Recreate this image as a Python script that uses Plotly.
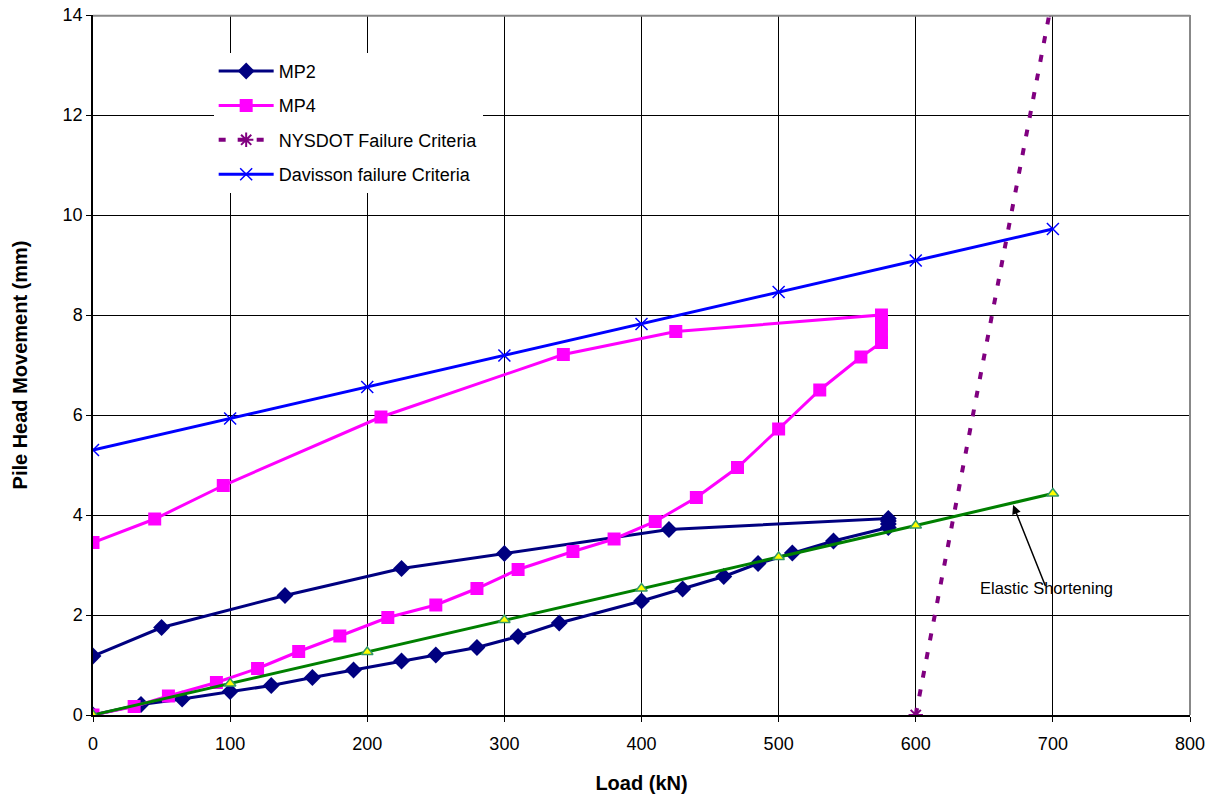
import plotly.graph_objects as go

# ---- data ----
mp2_load = [0, 35, 65, 100, 130, 160, 190, 225, 250, 280, 310, 340, 400, 430, 460, 485, 510, 540,
            580, 580, 580, 580, 420, 300, 225, 140, 50, 0]
mp2_move = [0, 0.21, 0.32, 0.47, 0.59, 0.75, 0.90, 1.08, 1.20, 1.35, 1.57, 1.84, 2.28, 2.52, 2.77, 3.03, 3.24, 3.48,
            3.75, 3.82, 3.88, 3.93, 3.71, 3.23, 2.93, 2.39, 1.75, 1.18]

mp4_load = [0, 30, 55, 90, 120, 150, 180, 215, 250, 280, 310, 350, 380, 410, 440, 470, 500, 530, 560,
            575, 575, 575, 575, 425, 343, 210, 95, 45, 0]
mp4_move = [0, 0.17, 0.38, 0.65, 0.93, 1.27, 1.58, 1.95, 2.20, 2.53, 2.91, 3.27, 3.52, 3.87, 4.35, 4.95, 5.72, 6.50, 7.16,
            7.45, 7.60, 7.80, 8.00, 7.67, 7.21, 5.96, 4.59, 3.92, 3.45]

nysdot_load = [600, 698]
nysdot_move = [0, 14.1]

dav_load = [0, 100, 200, 300, 400, 500, 600, 700]
dav_move = [5.30, 5.93, 6.56, 7.19, 7.82, 8.46, 9.09, 9.72]

el_load = [0, 100, 200, 300, 400, 500, 600, 700]
el_move = [0, 0.63, 1.26, 1.90, 2.53, 3.16, 3.79, 4.43]

x_ticks = [0, 100, 200, 300, 400, 500, 600, 700, 800]
y_ticks = [0, 2, 4, 6, 8, 10, 12, 14]

FONT = "Liberation Sans, Arial, sans-serif"

fig = go.Figure()
fig.add_trace(go.Scatter(x=mp2_load, y=mp2_move, name="MP2", mode="lines+markers",
                         line=dict(color="#000080", width=3),
                         marker=dict(symbol="diamond", size=13, color="#000080"),
                         legendgroup="a"))
fig.add_trace(go.Scatter(x=mp4_load, y=mp4_move, name="MP4", mode="lines+markers",
                         line=dict(color="#FF00FF", width=3),
                         marker=dict(symbol="square", size=13, color="#FF00FF"),
                         legendgroup="b"))
fig.add_trace(go.Scatter(x=nysdot_load, y=nysdot_move, name="NYSDOT Failure Criteria", mode="lines+markers",
                         line=dict(color="#800080", width=4, dash="7px,12px"),
                         marker=dict(symbol="asterisk-open", size=12, color="#800080",
                                     line=dict(color="#800080", width=2)),
                         legendgroup="c"))
fig.add_trace(go.Scatter(x=dav_load, y=dav_move, name="Davisson failure Criteria", mode="lines+markers",
                         line=dict(color="#0000FF", width=3),
                         marker=dict(symbol="x-thin-open", size=12, color="#0000FF",
                                     line=dict(color="#0000FF", width=1.5)),
                         legendgroup="d"))
fig.add_trace(go.Scatter(x=el_load, y=el_move, name="Elastic Shortening", mode="lines+markers",
                         line=dict(color="#008000", width=3),
                         marker=dict(symbol="triangle-up", size=10, color="#FFFF00",
                                     line=dict(color="#339966", width=1.5)),
                         showlegend=False))

fig.add_annotation(x=671, y=4.2, ax=695, ay=2.55, axref="x", ayref="y", xref="x", yref="y",
                   text="", showarrow=True, arrowhead=2, arrowsize=1.2, arrowwidth=1.5, arrowcolor="#000")
fig.add_annotation(x=695, y=2.54, xref="x", yref="y", text="Elastic Shortening", showarrow=False,
                   font=dict(family=FONT, size=16.5, color="#000"))

# top / right border in grey
fig.add_shape(type="line", xref="paper", yref="paper", x0=0, x1=1, y0=0.999, y1=0.999,
              line=dict(color="#888888", width=2), layer="above")
fig.add_shape(type="line", xref="paper", yref="paper", x0=1, x1=1, y0=0, y1=1,
              line=dict(color="#888888", width=2), layer="above")

fig.update_layout(
    width=1218, height=796,
    margin=dict(l=93, r=28, t=15, b=81),
    paper_bgcolor="white", plot_bgcolor="white",
    font=dict(family=FONT, size=18, color="#000"),
    legend=dict(x=0.11, y=0.946, xanchor="left", yanchor="top",
                bgcolor="white", borderwidth=0,
                font=dict(family=FONT, size=18, color="#000"),
                tracegroupgap=8, itemwidth=55),
    xaxis=dict(range=[0, 800], tickvals=x_ticks, ticks="outside", ticklen=5, tickcolor="#000",
               ticklabelstandoff=7, automargin=False,
               showgrid=True, gridcolor="#000", gridwidth=1,
               showline=True, linecolor="#000", linewidth=1.5, zeroline=False,
               title=dict(text="<b>Load (kN)</b>", font=dict(family=FONT, size=20), standoff=23),
               tickfont=dict(family=FONT, size=18)),
    yaxis=dict(range=[0, 14], tickvals=y_ticks, ticks="outside", ticklen=5, tickcolor="#000",
               ticklabeloverflow="allow", automargin=False,
               showgrid=True, gridcolor="#000", gridwidth=1,
               showline=True, linecolor="#000", linewidth=1.5, zeroline=False,
               title=dict(text="<b>Pile Head Movement (mm)</b>", font=dict(family=FONT, size=20), standoff=30),
               tickfont=dict(family=FONT, size=18)),
)

fig.write_html("out.html", config={"displayModeBar": False},
               post_script="document.body.style.margin='0';")
